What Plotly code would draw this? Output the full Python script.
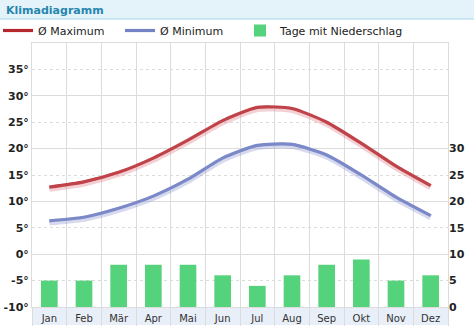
import plotly.graph_objects as go

months = ["Jan", "Feb", "Mär", "Apr", "Mai", "Jun", "Jul", "Aug", "Sep", "Okt", "Nov", "Dez"]
t_max = [12.7, 13.7, 15.5, 18.2, 21.6, 25.3, 27.8, 27.6, 25.0, 21.0, 16.7, 13.0]
t_min = [6.3, 7.0, 8.7, 11.0, 14.2, 18.2, 20.6, 20.8, 18.8, 15.0, 10.8, 7.3]
rain_days = [5, 5, 8, 8, 8, 6, 4, 6, 8, 9, 5, 6]
left_ticks = [-10, -5, 0, 5, 10, 15, 20, 25, 30, 35]
right_ticks = [0, 5, 10, 15, 20, 25, 30]

x = list(range(len(months)))
W, H = 474, 330
ML, MR, MT, MB = 32, 26, 43, 23
PW, PH = W - ML - MR, H - MT - MB

def px_x(p):
    return (p - ML) / PW

def px_y(p):
    return (H - MB - p) / PH

RED = "#b3272d"
BLUE = "#7383c4"
GREEN = "#55d27c"
GRID = "#dcdcdc"

fig = go.Figure()

fig.add_trace(go.Bar(x=x, y=rain_days, yaxis="y2", marker=dict(color=GREEN, line=dict(width=0)),
                     width=0.48, name="Tage mit Niederschlag", legend="legend3"))

# shadows
fig.add_trace(go.Scatter(x=x, y=t_max, yaxis="y4", mode="lines", line=dict(color="rgba(220,120,130,0.35)", width=6, shape="spline", smoothing=0.6),
                         showlegend=False, hoverinfo="skip"))
fig.add_trace(go.Scatter(x=x, y=t_min, yaxis="y4", mode="lines", line=dict(color="rgba(140,150,210,0.35)", width=6, shape="spline", smoothing=0.6),
                         showlegend=False, hoverinfo="skip"))

fig.add_trace(go.Scatter(x=x, y=t_max, mode="lines", name="Ø Maximum", legend="legend",
                         line=dict(color=RED, width=3.2, shape="spline", smoothing=0.6)))
fig.add_trace(go.Scatter(x=x, y=t_min, mode="lines", name="Ø Minimum", legend="legend2",
                         line=dict(color=BLUE, width=3.2, shape="spline", smoothing=0.6)))

shapes = [
    dict(type="rect", xref="paper", yref="paper", x0=px_x(0), x1=px_x(W), y0=px_y(19), y1=px_y(0),
         fillcolor="#e4f2f9", line=dict(width=0), layer="below"),
    dict(type="line", xref="paper", yref="paper", x0=px_x(0), x1=px_x(W), y0=px_y(19), y1=px_y(19),
         line=dict(color="#a6d4e8", width=1)),
    dict(type="rect", xref="paper", yref="paper", x0=0, x1=1, y0=px_y(325), y1=0,
         fillcolor="#e9eff8", line=dict(width=0), layer="below"),
]

def leg(px):
    return dict(orientation="h", x=px_x(px), y=px_y(16), xanchor="left", yanchor="top",
                itemwidth=30, font=dict(size=11, color="#222"), bgcolor="rgba(0,0,0,0)")

fig.update_layout(
    width=W, height=H,
    margin=dict(l=ML, r=MR, t=MT, b=MB, pad=0, autoexpand=False),
    paper_bgcolor="white", plot_bgcolor="white",
    font=dict(family="DejaVu Sans", size=11, color="#222"),
    showlegend=True,
    legend=leg(-2),
    legend2=leg(120),
    legend3=leg(240),
    bargap=0.5,
    xaxis=dict(range=[-0.5, 11.5], tickvals=x, ticktext=months, showgrid=False, zeroline=False,
               tickfont=dict(size=10, color="#333"), ticks="", ticklabelstandoff=2,
               showline=True, linecolor=GRID, mirror=True,
               minor=dict(tick0=-0.5, dtick=1, showgrid=True, gridcolor=GRID, gridwidth=1,
                          ticks="outside", ticklen=18, tickcolor=GRID)),
    yaxis=dict(range=[-10, 40], tickvals=left_ticks, ticktext=[f"{v}°" for v in left_ticks],
               showgrid=True, gridcolor=GRID, griddash="dot", zeroline=False,
               tickfont=dict(size=11, color="#222", weight="bold"),
               showline=True, linecolor=GRID, mirror=True),
    yaxis2=dict(range=[0, 50], tickvals=right_ticks, overlaying="y", side="right", showgrid=False,
                zeroline=False, tickfont=dict(size=11, color="#222", weight="bold")),
    yaxis3=dict(range=[-10, 40], tick0=-10, dtick=10, overlaying="y", showgrid=True, gridcolor=GRID,
                showticklabels=False, zeroline=False),
    yaxis4=dict(range=[-9.7, 40.3], overlaying="y", showgrid=False, showticklabels=False, zeroline=False),
    shapes=shapes,
    annotations=[dict(text="<b>Klimadiagramm</b>", xref="paper", yref="paper", x=px_x(4), y=px_y(10),
                      xanchor="left", yanchor="middle", showarrow=False,
                      font=dict(size=11, color="#2486ad", family="DejaVu Sans"))],
)

fig.add_trace(go.Scatter(x=[None], y=[None], yaxis="y3", showlegend=False, hoverinfo="skip"))

fig.write_html("out.html")
